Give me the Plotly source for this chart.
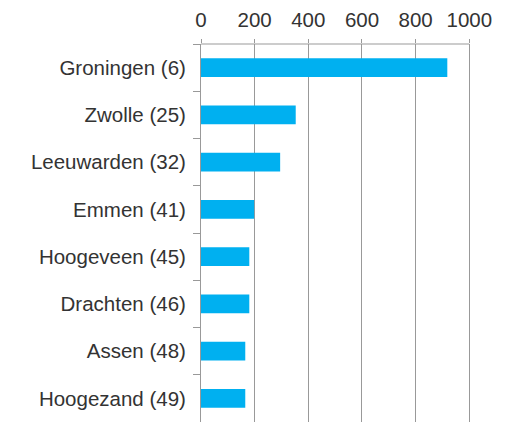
import plotly.graph_objects as go

# Cities (with rank) and their values
cities = ["Groningen (6)", "Zwolle (25)", "Leeuwarden (32)", "Emmen (41)",
          "Hoogeveen (45)", "Drachten (46)", "Assen (48)", "Hoogezand (49)"]
values = [918, 353, 295, 198, 180, 180, 165, 165]
x_ticks = [0, 200, 400, 600, 800, 1000]

text_color = "#333333"
axis_color = "#999999"

fig = go.Figure(
    go.Bar(
        x=values,
        y=cities,
        orientation="h",
        marker=dict(color="#00B0F0", line=dict(width=0)),
        width=0.4,
    )
)

fig.update_layout(
    width=506,
    height=422,
    margin=dict(l=201, r=34, t=44, b=0),
    paper_bgcolor="white",
    plot_bgcolor="white",
    showlegend=False,
    font=dict(family="Liberation Sans, Arial, sans-serif", size=20.5, color=text_color),
)

# a little headroom past 1000 so the last gridline is drawn
fig.update_xaxes(
    side="top",
    range=[0, 1010],
    tickvals=x_ticks,
    ticktext=[str(v) for v in x_ticks],
    showgrid=True,
    gridcolor=axis_color,
    gridwidth=1,
    showline=False,
    ticks="outside",
    ticklen=4,
    tickwidth=1,
    tickcolor=axis_color,
    ticklabelstandoff=4,
    zeroline=False,
    tickfont=dict(size=20.5, color=text_color),
)

fig.update_yaxes(
    type="category",
    categoryorder="array",
    categoryarray=cities,
    autorange="reversed",
    showline=True,
    linecolor=axis_color,
    linewidth=1,
    ticks="outside",
    tickson="boundaries",
    ticklen=7,
    tickwidth=1,
    tickcolor=axis_color,
    ticklabelstandoff=10,
    showgrid=False,
    tickfont=dict(size=20.5, color=text_color),
)

# horizontal axis line spanning 0..1000 only
fig.add_shape(type="line", xref="x", yref="paper", x0=0, x1=x_ticks[-1], y0=1, y1=1,
              line=dict(color=axis_color, width=1))

fig.write_html("out.html")
